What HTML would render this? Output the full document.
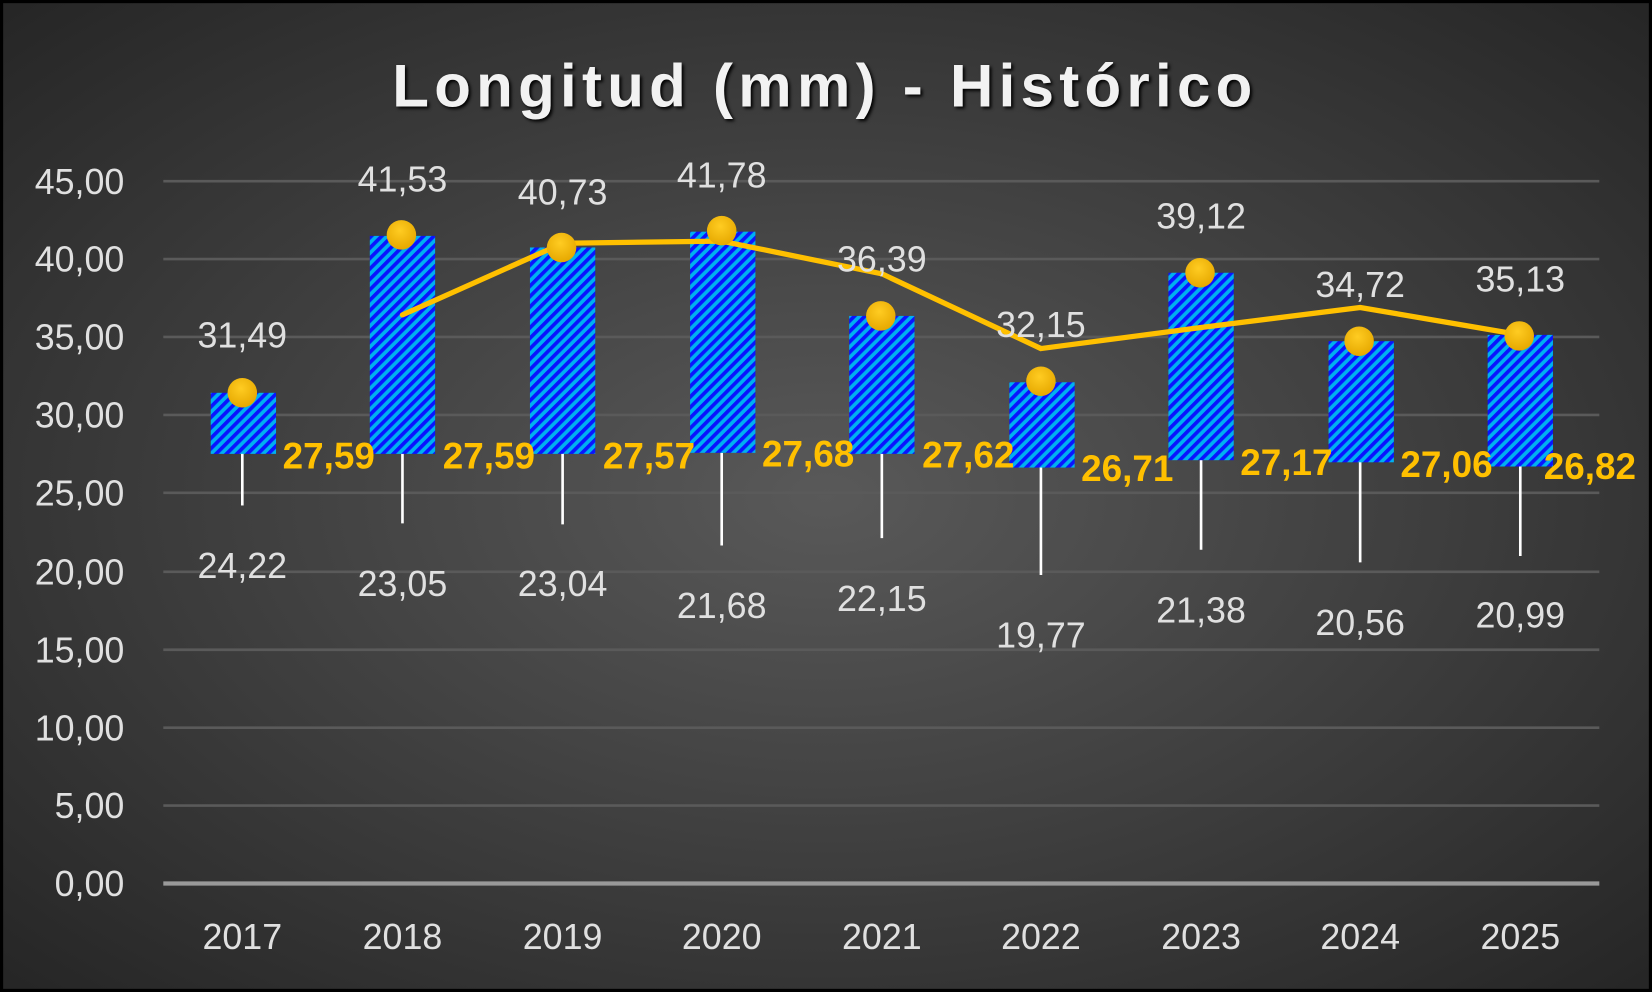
<!DOCTYPE html>
<html><head><meta charset="utf-8"><style>
html,body{margin:0;padding:0;width:1652px;height:992px;overflow:hidden;background:#000}
svg{display:block}
text{font-family:"Liberation Sans",sans-serif}
</style></head><body>
<svg width="1652" height="992" viewBox="0 0 1568 942" preserveAspectRatio="none">
<defs>
<radialGradient id="bg" cx="50%" cy="50%" r="70%">
<stop offset="0" stop-color="#595959"/><stop offset="1" stop-color="#262626"/>
</radialGradient>
<pattern id="st" width="7" height="7" patternUnits="userSpaceOnUse" patternTransform="rotate(45)">
<rect width="7" height="7" fill="#00b0f0"/><rect width="3.5" height="7" fill="#0a14ff"/>
</pattern>
<radialGradient id="dot" cx="45%" cy="35%" r="65%"><stop offset="0" stop-color="#ffcc22"/><stop offset="1" stop-color="#e6a800"/></radialGradient>
</defs>
<rect x="0" y="0" width="1568" height="942" fill="#000"/>
<rect x="3" y="3" width="1562" height="936" fill="url(#bg)"/>
<text x="783" y="101" text-anchor="middle" font-size="57" font-weight="bold" fill="#f2f2f2" letter-spacing="5" style="text-shadow:2px 2px 3px #000">Longitud (mm) - Histórico</text>
<g stroke="#5a5a5a" stroke-width="2.5">
<line x1="155" y1="172" x2="1518" y2="172"/><line x1="155" y1="246" x2="1518" y2="246"/>
<line x1="155" y1="320" x2="1518" y2="320"/><line x1="155" y1="394" x2="1518" y2="394"/>
<line x1="155" y1="468" x2="1518" y2="468"/><line x1="155" y1="543" x2="1518" y2="543"/>
<line x1="155" y1="617" x2="1518" y2="617"/><line x1="155" y1="691" x2="1518" y2="691"/>
<line x1="155" y1="765" x2="1518" y2="765"/>
</g>
<line x1="155" y1="839" x2="1518" y2="839" stroke="#999" stroke-width="4"/>
<g font-size="34" fill="#e0e0e0" text-anchor="end">
<text x="118" y="184">45,00</text><text x="118" y="258">40,00</text><text x="118" y="332">35,00</text>
<text x="118" y="406">30,00</text><text x="118" y="480">25,00</text><text x="118" y="555">20,00</text>
<text x="118" y="629">15,00</text><text x="118" y="703">10,00</text><text x="118" y="777">5,00</text>
<text x="118" y="851">0,00</text>
</g>
<g font-size="34" fill="#e0e0e0" text-anchor="middle">
<text x="230" y="901">2017</text><text x="382" y="901">2018</text><text x="534" y="901">2019</text>
<text x="685" y="901">2020</text><text x="837" y="901">2021</text><text x="988" y="901">2022</text>
<text x="1140" y="901">2023</text><text x="1291" y="901">2024</text><text x="1443" y="901">2025</text>
</g>
<g stroke="#fff" stroke-width="2.5">
<line x1="230" y1="430" x2="230" y2="480"/><line x1="382" y1="430" x2="382" y2="497"/>
<line x1="534" y1="430" x2="534" y2="498"/><line x1="685" y1="430" x2="685" y2="518"/>
<line x1="837" y1="430" x2="837" y2="511"/><line x1="988" y1="443" x2="988" y2="546"/>
<line x1="1140" y1="436" x2="1140" y2="522"/><line x1="1291" y1="438" x2="1291" y2="534"/>
<line x1="1443" y1="441" x2="1443" y2="528"/>
</g>
<g fill="url(#st)">
<rect x="200" y="373" width="62" height="58"/>
<rect x="351" y="224" width="62" height="207"/>
<rect x="503" y="235" width="62" height="196"/>
<rect x="655" y="220" width="62" height="210"/>
<rect x="806" y="300" width="62" height="131"/>
<rect x="958" y="363" width="62" height="81"/>
<rect x="1109" y="259" width="62" height="178"/>
<rect x="1261" y="324" width="62" height="115"/>
<rect x="1412" y="318" width="62" height="125"/>
</g>
<polyline points="382,299 534,231 685,229 837,260 988,331 1140,311 1291,292 1443,318" fill="none" stroke="#ffc000" stroke-width="5" stroke-linejoin="round" stroke-linecap="round"/>
<g fill="url(#dot)">
<circle cx="230" cy="373" r="14"/><circle cx="381" cy="223" r="14"/><circle cx="533" cy="235" r="14"/>
<circle cx="685" cy="219" r="14"/><circle cx="836" cy="300" r="14"/><circle cx="988" cy="362" r="14"/>
<circle cx="1139" cy="259" r="14"/><circle cx="1290" cy="324" r="14"/><circle cx="1442" cy="319" r="14"/>
</g>
<g font-size="34" fill="#e0e0e0" text-anchor="middle">
<text x="230" y="330">31,49</text><text x="382" y="182">41,53</text><text x="534" y="194">40,73</text>
<text x="685" y="178">41,78</text><text x="837" y="258">36,39</text><text x="988" y="320">32,15</text>
<text x="1140" y="217">39,12</text><text x="1291" y="282">34,72</text><text x="1443" y="277">35,13</text>
<text x="230" y="549">24,22</text><text x="382" y="566">23,05</text><text x="534" y="566">23,04</text>
<text x="685" y="587">21,68</text><text x="837" y="580">22,15</text><text x="988" y="615">19,77</text>
<text x="1140" y="591">21,38</text><text x="1291" y="603">20,56</text><text x="1443" y="596">20,99</text>
</g>
<g font-size="35" font-weight="bold" fill="#ffc000" text-anchor="middle">
<text x="312" y="445">27,59</text><text x="464" y="445">27,59</text><text x="616" y="445">27,57</text>
<text x="767" y="443">27,68</text><text x="919" y="444">27,62</text><text x="1070" y="457">26,71</text>
<text x="1221" y="451">27,17</text><text x="1373" y="453">27,06</text><text x="1509" y="455">26,82</text>
</g>
</svg>
</body></html>
